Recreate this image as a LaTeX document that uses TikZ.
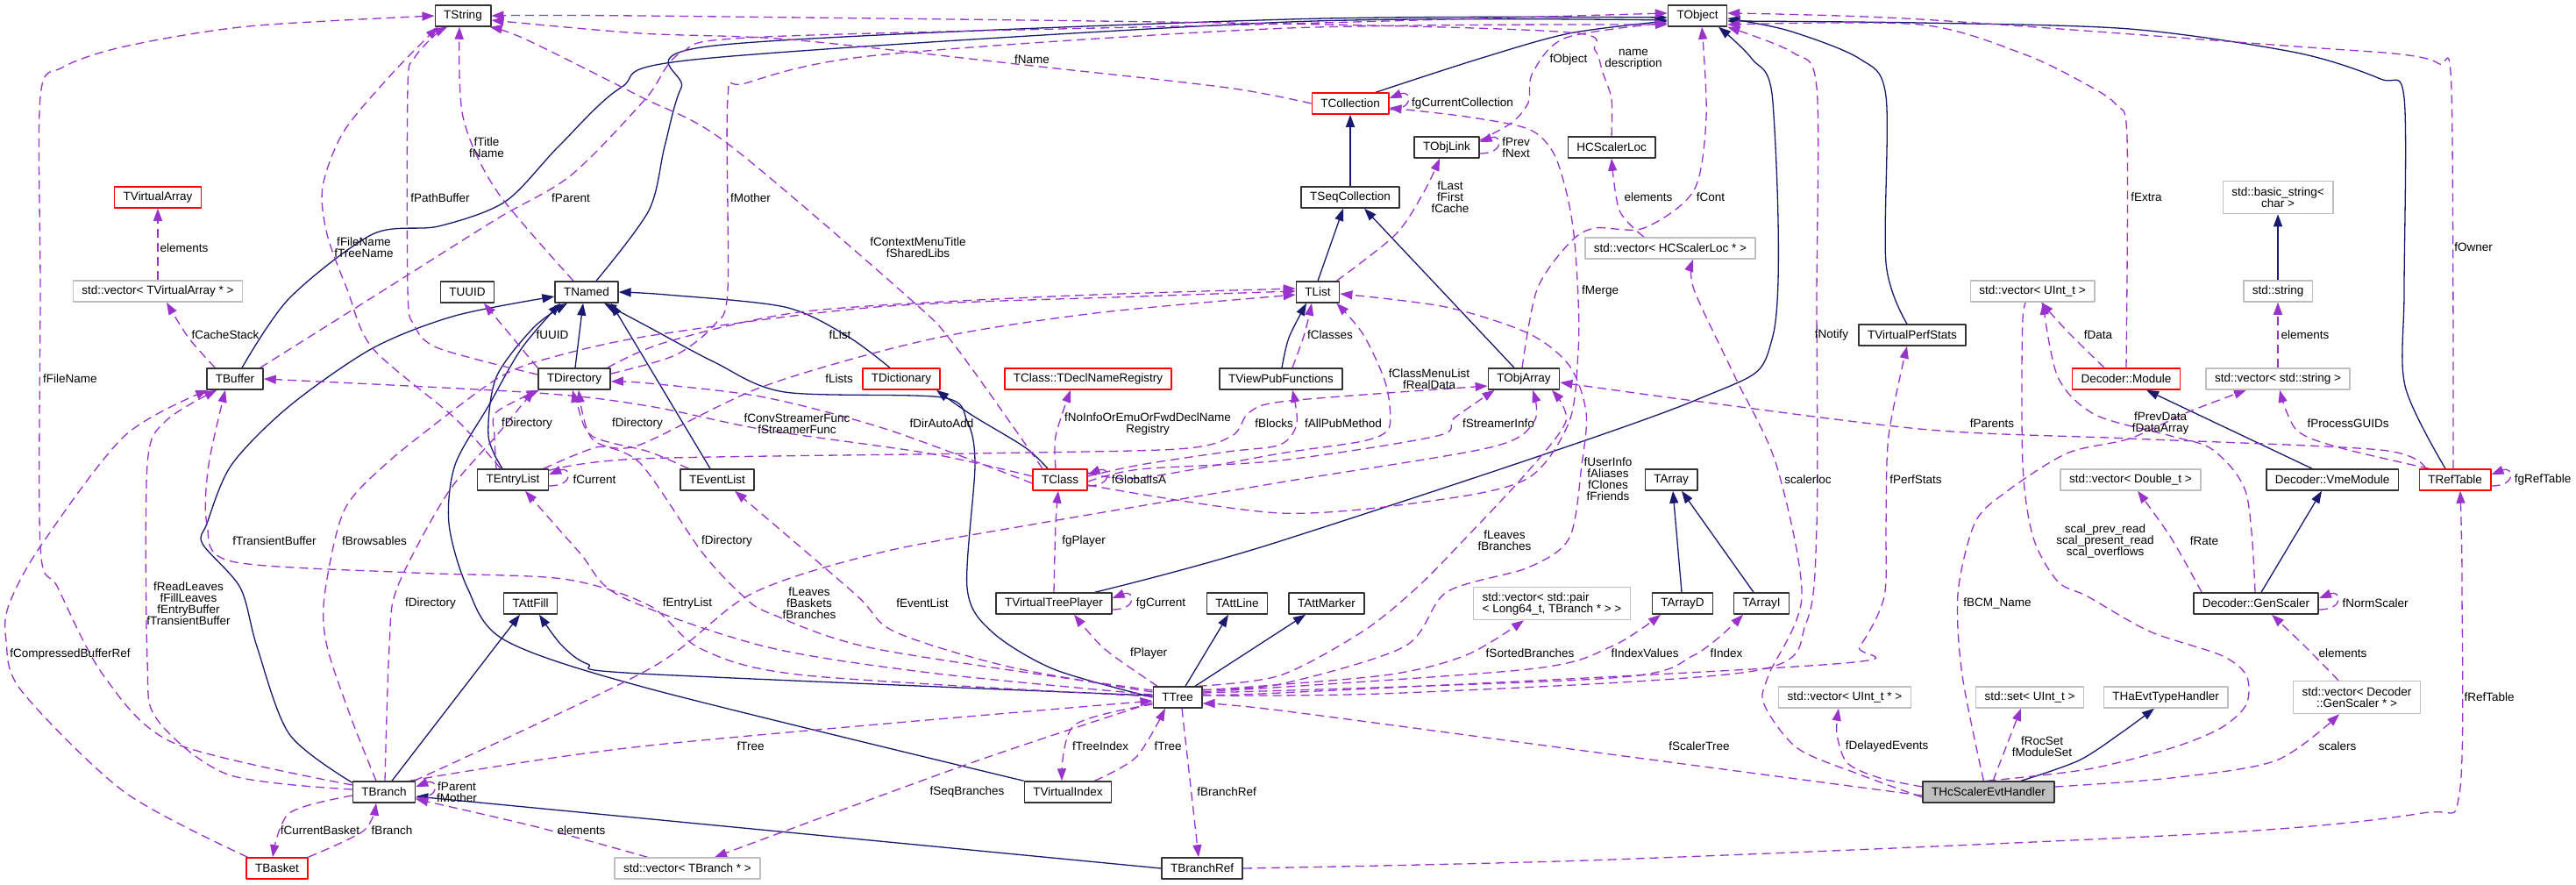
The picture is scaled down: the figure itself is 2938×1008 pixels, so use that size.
\documentclass[tikz,border=0pt]{standalone}
\usepackage{fontspec}
\setmainfont{Liberation Sans}
\usetikzlibrary{arrows.meta,backgrounds}
\definecolor{erbblau}{HTML}{191970}
\definecolor{nutzlila}{HTML}{9A32CD}
\definecolor{randgrau}{HTML}{BFBFBF}

\begin{document}
\begin{tikzpicture}[x=0.5pt,y=-0.5pt,font=\fontsize{6.75}{6.5}\selectfont,line join=round,
  klasse/.style={draw=black!80,line width=0.75pt,fill=white,inner xsep=5pt,inner ysep=0pt,minimum height=12pt},
  rotklasse/.style={klasse,draw=red},
  grauklasse/.style={klasse,draw=randgrau},
  hauptklasse/.style={klasse,fill=randgrau},
  zweizeilig/.style={align=center,minimum height=18.5pt},
  erbt/.style={draw=erbblau,line width=0.65pt,-{Triangle[length=7pt,width=5pt]}},
  nutzt/.style={draw=nutzlila,line width=0.65pt,dash pattern=on 5pt off 3pt,-{Triangle[length=7pt,width=5pt]}},
  lbl/.style={align=center,inner sep=0pt}]
\useasboundingbox (0,0) rectangle (2938,1008);
% Knoten (Koordinaten in Pixeln des Originals)
\node[klasse] (tstring) at (528,18) {TString};
\node[klasse] (tobject) at (1936,18) {TObject};
\node[rotklasse] (tcoll) at (1540,118) {TCollection};
\node[klasse] (tobjlink) at (1650,168) {TObjLink};
\node[klasse] (hcsl) at (1838,168) {HCScalerLoc};
\node[rotklasse] (tvarr) at (180,225) {TVirtualArray};
\node[klasse] (tseq) at (1540,225) {TSeqCollection};
\node[grauklasse,zweizeilig] (bstr) at (2598,225) {std::basic\_string\textless\\char \textgreater};
\node[grauklasse] (vhcsl) at (1905,283) {std::vector\textless{} HCScalerLoc * \textgreater};
\node[grauklasse] (vvarr) at (180,332) {std::vector\textless{} TVirtualArray * \textgreater};
\node[klasse] (tuuid) at (533,333) {TUUID};
\node[klasse] (tnamed) at (669,333) {TNamed};
\node[klasse] (tlist) at (1503,333) {TList};
\node[grauklasse] (vuint) at (2318,332) {std::vector\textless{} UInt\_t \textgreater};
\node[grauklasse] (sstr) at (2598,332) {std::string};
\node[klasse] (tvps) at (2181,382) {TVirtualPerfStats};
\node[klasse] (tbuffer) at (268,432) {TBuffer};
\node[klasse] (tdir) at (655,432) {TDirectory};
\node[rotklasse] (tdict) at (1028,432) {TDictionary};
\node[rotklasse] (tdnr) at (1241,432) {TClass::TDeclNameRegistry};
\node[klasse] (tvpf) at (1461,432) {TViewPubFunctions};
\node[klasse] (tobjarr) at (1738,432) {TObjArray};
\node[rotklasse] (dmod) at (2425,432) {Decoder::Module};
\node[grauklasse] (vstr) at (2598,432) {std::vector\textless{} std::string \textgreater};
\node[klasse] (tentry) at (585,547) {TEntryList};
\node[klasse] (tevent) at (818,547) {TEventList};
\node[rotklasse] (tclass) at (1209,547) {TClass};
\node[klasse] (tarray) at (1906,547) {TArray};
\node[grauklasse] (vdbl) at (2430,547) {std::vector\textless{} Double\_t \textgreater};
\node[klasse] (vme) at (2660,547) {Decoder::VmeModule};
\node[rotklasse] (treft) at (2800,547) {TRefTable};
\node[klasse] (tattfill) at (605,688) {TAttFill};
\node[klasse] (tvtp) at (1202,688) {TVirtualTreePlayer};
\node[klasse] (tattline) at (1411,688) {TAttLine};
\node[klasse] (tattmark) at (1513,688) {TAttMarker};
\node[grauklasse,zweizeilig,align=left] (vpair) at (1770,688) {std::vector\textless{} std::pair\\\textless{} Long64\_t, TBranch * \textgreater{} \textgreater};
\node[klasse] (tarrd) at (1919,688) {TArrayD};
\node[klasse] (tarri) at (2009,688) {TArrayI};
\node[klasse] (gensc) at (2573,688) {Decoder::GenScaler};
\node[klasse] (ttree) at (1343,795) {TTree};
\node[grauklasse] (vuintp) at (2104,795) {std::vector\textless{} UInt\_t * \textgreater};
\node[grauklasse] (sset) at (2315,795) {std::set\textless{} UInt\_t \textgreater};
\node[grauklasse] (thaevt) at (2470,795) {THaEvtTypeHandler};
\node[grauklasse,zweizeilig] (vgen) at (2688,795) {std::vector\textless{} Decoder\\::GenScaler * \textgreater};
\node[klasse] (tbranch) at (438,903) {TBranch};
\node[klasse] (tvidx) at (1218,903) {TVirtualIndex};
\node[hauptklasse] (hcevt) at (2268,903) {THcScalerEvtHandler};
\node[rotklasse] (tbasket) at (316,990) {TBasket};
\node[grauklasse] (vbranch) at (784,990) {std::vector\textless{} TBranch * \textgreater};
\node[klasse] (tbref) at (1371,990) {TBranchRef};

\begin{scope}[on background layer]
% Vererbung
\draw[erbt] plot[smooth] coordinates {([xshift=14.5pt]tcoll.north) (1687,67) (1790,38) ([yshift=-3pt]tobject.west)};
\draw[erbt] (tseq) -- (tcoll);
\draw[erbt] (tlist.north) -- ([xshift=-4pt]tseq.south);
\draw[erbt] ([xshift=-5.5pt]tobjarr.north) -- ([xshift=8pt]tseq.south);
\draw[erbt] plot[smooth] coordinates {([xshift=5.5pt]tnamed.north) (740,240) (758,167) (777,100) (815,52) (1470,22) ([yshift=-1pt]tobject.west)};
\draw[erbt] plot[smooth] coordinates {([xshift=4pt]tbuffer.north) (330,340) (425,267) (500,258) (576,230) (637,167) (708,100) (801,67) (1470,25) ([yshift=-2.5pt]tobject.west)};
\draw[erbt] ([xshift=0.5pt]tdir.north) -- ([xshift=-2pt]tnamed.south);
\draw[erbt] plot[smooth] coordinates {([xshift=-6pt]tentry.north) (557,497) (566,430) (609,373) ([xshift=-11pt]tnamed.south)};
\draw[erbt] ([xshift=-4pt]tevent.north) -- ([xshift=14pt]tnamed.south);
\draw[erbt] plot[smooth] coordinates {(tvidx.north west) (740,785) (576,730) (533,670) (512,597) (519,530) (557,463) (595,397) ([xshift=-15pt]tnamed.south)};
\draw[erbt] plot[smooth] coordinates {([xshift=-6.5pt]tdict.north) (966,383) (895,350) (760,336) (tnamed.east)};
\draw[erbt] plot[smooth] coordinates {([xshift=-7pt]tclass.north) (1169,510) (1108,473) ([xshift=20pt]tdict.south)};
\draw[erbt] plot[smooth] coordinates {([xshift=0.5pt]tvpf.north) (1470,385) ([xshift=-6.5pt]tlist.south)};
\draw[erbt] plot[smooth] coordinates {(ttree.west) (1202,763) (1131,720) (1103,670) (1112,530) (1103,480) (1074,453) (895,447) (815,413) (740,373) ([xshift=10pt]tnamed.south)};
\draw[erbt] ([xshift=4.5pt]ttree.north) -- ([xshift=-5pt]tattline.south);
\draw[erbt] ([xshift=10pt]ttree.north) -- ([xshift=-12pt]tattmark.south);
\draw[erbt] plot[smooth] coordinates {([yshift=1pt]ttree.west) (730,768) (670,757) (640,735) ([xshift=5pt]tattfill.south)};
\draw[erbt] ([xshift=4.5pt]tbranch.north) -- ([xshift=-6pt]tattfill.south);
\draw[erbt] plot[smooth] coordinates {([yshift=-1pt]tbranch.north west) (330,837) (293,737) (274,670) (231,620) (236,597) (264,530) (330,463) (425,397) (519,360) ([yshift=-2.5pt]tnamed.west)};
\draw[erbt] (tbref.west) -- ([yshift=-2.5pt]tbranch.east);
\draw[erbt] plot[smooth] coordinates {([xshift=-10pt]tvtp.north east) (1460,617) (1932,457) (2022,383) (2022,117) (1998,67) ([xshift=12pt]tobject.south)};
\draw[erbt] plot[smooth] coordinates {([xshift=-3pt]tvps.north) (2151,300) (2151,110) (2121,67) (2040,35) ([yshift=-1.5pt]tobject.east)};
\draw[erbt] plot[smooth] coordinates {([xshift=-5.5pt]treft.north) (2743,440) (2742,330) (2742,112) (2715,90) (2619,60) (2429,33) (2190,26) ([yshift=-3pt]tobject.east)};
\draw[erbt] ([xshift=-0.5pt]tarrd.north) -- ([xshift=1pt]tarray.south);
\draw[erbt] ([xshift=-4.5pt]tarri.north) -- ([xshift=6pt]tarray.south);
\draw[erbt] (sstr) -- (bstr);
\draw[erbt] ([xshift=-11.5pt]vme.north) -- ([xshift=11.5pt]dmod.south);
\draw[erbt] ([xshift=3pt]gensc.north) -- ([xshift=-6pt]vme.south);
\draw[erbt] plot[smooth] coordinates {([xshift=18.5pt]hcevt.north) (2371,867) (2420,835) ([xshift=-6.5pt]thaevt.south)};

% Benutzung (Member)
\draw[nutzt] plot[smooth] coordinates {([xshift=-7.5pt]tnamed.north) (566,217) (528,133) ([xshift=-2pt]tstring.south)};
\draw[nutzt] plot[smooth] coordinates {([yshift=2.5pt]tdir.west) (500,397) (472,370) (465,330) (465,100) (472,67) (496,40) ([xshift=-9pt]tstring.south)};
\draw[nutzt] plot[smooth] coordinates {([xshift=-7pt]tentry.north) (519,477) (425,397) (396,330) (373,267) (368,213) (392,150) (448,83) ([xshift=2pt]tstring.south west)};
\draw[nutzt] plot[smooth] coordinates {([yshift=4pt]tbranch.west) (198,847) (118,770) (66,670) (46,623) (46,330) (46,110) (71,77) (142,53) (283,30) (tstring.west)};
\draw[nutzt] plot[smooth] coordinates {([xshift=1pt]tbasket.north west) (142,903) (24,787) (7,730) (10,690) (46,623) (142,497) ([xshift=1pt]tbuffer.south west)};
\draw[nutzt] plot[smooth] coordinates {([xshift=5pt]tbuffer.north west) (215,385) ([xshift=5pt]vvarr.south)};
\draw[nutzt] (vvarr) -- (tvarr);
\draw[nutzt] plot[smooth] coordinates {([xshift=-2pt]tbuffer.north east) (439,330) (566,250) (651,200) (736,113) (777,60) (872,42) (1470,27) ([yshift=1.5pt]tobject.west)};
\draw[nutzt] plot[smooth] coordinates {([yshift=3pt]tdir.east) (770,405) (815,370) (830,330) (830,112) (850,95) (1000,63) (1470,32) ([yshift=-5pt]tobject.west)};
\draw[nutzt] plot[smooth] coordinates {(tcoll.west) (1400,100) (1177,75) (900,45) (730,38) ([yshift=-2.5pt]tstring.east)};
\draw[nutzt] plot[smooth] coordinates {(hcsl.north) (1838,113) (1828,83) (1819,57) (1790,37) (1460,27) (730,18) (tstring.east)};
\draw[nutzt] plot[smooth] coordinates {([yshift=4pt]tobjlink.east) (1724,140) (1743,117) (1748,83) (1786,43) ([yshift=-4pt]tobject.west)};
\draw[nutzt] plot[smooth] coordinates {([xshift=-2pt]tlist.north east) (1592,267) (1625,217) ([xshift=-4pt]tobjlink.south)};
\draw[nutzt] plot[smooth] coordinates {([xshift=-15pt]vhcsl.north) (1847,240) (hcsl.south)};
\draw[nutzt] plot[smooth] coordinates {([xshift=-1pt]tobjarr.north) (1753,330) (1790,277) (1819,260) (1875,260) (1932,217) (1946,133) ([xshift=2.5pt]tobject.south)};
\draw[nutzt] plot[smooth] coordinates {([yshift=-3pt]tclass.east) (1460,585) (1640,570) (1743,545) (1790,480) (1800,400) (1800,340) (1795,267) (1786,217) (1771,173) (1743,147) (1672,133) ([yshift=-2.5pt]tcoll.east)};
\draw[nutzt] plot[smooth] coordinates {([xshift=-10pt]tclass.north) (1089,394) (1037,340) (829,163) (730,110) (600,45) ([xshift=-1pt]tstring.south east)};
\draw[nutzt] (tdir.north west) -- ([xshift=9.5pt]tuuid.south);
\draw[nutzt] plot[smooth] coordinates {([xshift=-9.5pt]tentry.north) (564,497) (566,470) ([xshift=1pt]tdir.south west)};
\draw[nutzt] plot[smooth] coordinates {([xshift=5pt]tevent.north west) (740,515) (675,497) (658,460) ([xshift=-1pt]tdir.south)};
\draw[nutzt] plot[smooth] coordinates {([xshift=6.5pt]tvpf.north) (1488,380) ([xshift=-3.5pt]tlist.south)};
\draw[nutzt] plot[smooth] coordinates {([yshift=2pt]tclass.east) (1300,530) (1400,515) (1460,507) (1479,483) ([xshift=6.5pt]tvpf.south)};
\draw[nutzt] plot[smooth] coordinates {([yshift=-1pt]tclass.east) (1300,535) (1460,525) (1639,497) (1658,477) ([xshift=4pt]tobjarr.south west)};
\draw[nutzt] plot[smooth] coordinates {([yshift=4pt]tclass.east) (1300,545) (1460,517) (1554,503) (1583,490) (1585,463) (1578,430) (1554,380) ([xshift=-2pt]tlist.south east)};
\draw[nutzt] plot[smooth] coordinates {([xshift=-2.5pt]tclass.north) (1204,497) ([xshift=-10pt]tdnr.south)};
\draw[nutzt] plot[smooth] coordinates {([xshift=-2pt]tdir.north east) (760,390) (919,355) (1200,338) ([yshift=2pt]tlist.west)};
\draw[nutzt] plot[smooth] coordinates {([xshift=-3pt]tentry.north east) (680,510) (730,507) (872,440) (1060,387) (1249,357) ([yshift=-1.5pt]tlist.west)};
\draw[nutzt] plot[smooth] coordinates {([xshift=-4.5pt]tbranch.north) (401,820) (373,737) (370,680) (392,583) (439,530) (510,473) (570,430) (620,410) (740,383) (1000,350) (1300,338) ([yshift=0.5pt]tlist.west)};
\draw[nutzt] plot[smooth] coordinates {([yshift=2pt]tclass.west) (1060,517) (872,490) (740,463) (613,448) (tbuffer.east)};
\draw[nutzt] plot[smooth] coordinates {([yshift=-2pt]tclass.west) (1013,490) (872,453) (740,437) ([yshift=-1.5pt]tdir.east)};
\draw[nutzt] plot[smooth] coordinates {([yshift=-1pt]tentry.north east) (730,523) (1107,517) (1343,512) (1405,497) (1425,470) (1470,457) ([yshift=-4pt]tobjarr.west)};
\draw[nutzt] plot[smooth] coordinates {([xshift=-1pt]tbranch.north east) (740,763) (857,677) (1004,630) (1183,597) (1460,550) (1700,510) (1750,480) ([xshift=5pt]tobjarr.south)};
\draw[nutzt] plot[smooth] coordinates {([xshift=-2.5pt]ttree.north east) (1460,770) (1554,720) (1616,670) (1672,613) (1743,537) (1786,480) ([xshift=16pt]tobjarr.south)};
\draw[nutzt] plot[smooth] coordinates {([yshift=-2pt]ttree.north east) (1460,780) (1602,737) (1650,675) (1743,647) (1790,613) (1804,530) (1809,470) (1790,417) (1743,380) (1649,350) ([yshift=-1pt]tlist.east)};
\draw[nutzt] plot[smooth] coordinates {([yshift=1pt]ttree.east) (1600,790) (2000,765) (2060,710) (2072,600) (2072,340) (2072,100) (2045,60) (tobject.south east)};
\draw[nutzt] plot[smooth] coordinates {([yshift=-3pt]hcevt.west) (2121,883) (2050,853) (2012,803) (2017,770) (2055,680) (2026,530) (1979,430) (1932,330) ([xshift=13pt]vhcsl.south)};
\draw[nutzt] plot[smooth] coordinates {([yshift=2pt]ttree.east) (1460,790) (2092,757) (2121,737) (2149,680) (2151,597) (2154,497) ([xshift=-3pt]tvps.south)};
\draw[nutzt] plot[smooth] coordinates {([xshift=4pt]treft.north west) (2715,513) (2429,500) (2200,490) (1932,457) ([yshift=-2pt]tobjarr.east)};
\draw[nutzt] plot[smooth] coordinates {([xshift=6pt]treft.north west) (2667,510) (2619,490) ([xshift=1pt]vstr.south)};
\draw[nutzt] (vstr) -- (sstr);
\draw[nutzt] plot[smooth] coordinates {([xshift=-12.5pt]dmod.north) (2360,380) ([xshift=5pt]vuint.south)};
\draw[nutzt] plot[smooth] coordinates {(dmod.north) (2426,157) (2414,120) (2381,97) (2309,62) (2190,28) ([yshift=-5pt]tobject.east)};
\draw[nutzt] plot[smooth] coordinates {([xshift=-1pt]treft.north) (2796,103) (2782,73) (2739,62) (2619,53) (2190,22) ([yshift=1.5pt]tobject.east)};
\draw[nutzt] plot[smooth] coordinates {([xshift=-0.5pt]gensc.north) (2562,563) (2524,513) (2476,497) (2390,473) (2347,430) ([xshift=6pt]vuint.south)};
\draw[nutzt] plot[smooth] coordinates {([xshift=37pt]hcevt.north west) (2381,877) (2476,853) (2533,830) (2562,803) (2562,770) (2533,747) (2452,720) (2381,680) (2347,663) (2319,613) (2307,530) (2307,363) ([xshift=-1pt]vuint.south)};
\draw[nutzt] plot[smooth] coordinates {([xshift=35pt]hcevt.north west) (2238,770) (2233,677) (2252,597) (2285,563) (2357,517) (2429,500) (2495,470) ([xshift=-18pt]vstr.south)};
\draw[nutzt] plot[smooth] coordinates {([xshift=5pt]gensc.north west) (2476,613) ([xshift=4pt]vdbl.south)};
\draw[nutzt] plot[smooth] coordinates {([xshift=-10.5pt]vgen.north) (2629,737) ([xshift=9pt]gensc.south)};
\draw[nutzt] plot[smooth] coordinates {([yshift=3pt]hcevt.east) (2476,887) (2596,867) ([xshift=-10pt]vgen.south)};
\draw[nutzt] plot[smooth] coordinates {(tbref.east) (1838,980) (2524,950) (2763,927) (2805,905) (2808,670) ([xshift=3pt]treft.south)};
\draw[nutzt] ([xshift=2.5pt]hcevt.north) -- ([xshift=-5pt]sset.south);
\draw[nutzt] plot[smooth] coordinates {([yshift=3pt]hcevt.west) (2144,887) (2107,870) (2095,837) ([xshift=-3.5pt]vuintp.south)};
\draw[nutzt] plot[smooth] coordinates {([yshift=-2pt]hcevt.west) (1837,860) (1460,810) ([yshift=-3.5pt]ttree.east)};
\draw[nutzt] plot[smooth] coordinates {([yshift=4pt]ttree.east) (1578,770) (1672,747) ([xshift=-16pt]vpair.south)};
\draw[nutzt] plot[smooth] coordinates {([yshift=3pt]ttree.east) (1743,763) (1838,737) ([xshift=-12.5pt]tarrd.south)};
\draw[nutzt] plot[smooth] coordinates {([yshift=2.5pt]ttree.east) (1838,773) (1932,747) ([xshift=-10.5pt]tarri.south)};
\draw[nutzt] plot[smooth] coordinates {([xshift=-11.5pt]ttree.north) (1260,740) ([xshift=11.5pt]tvtp.south)};
\draw[nutzt] plot[smooth] coordinates {(tvtp.north) (1204,597) ([xshift=-1pt]tclass.south)};
\draw[nutzt] plot[smooth] coordinates {([yshift=-4pt]ttree.west) (1225,827) ([xshift=-3.5pt]tvidx.north)};
\draw[nutzt] plot[smooth] coordinates {([xshift=-10pt]tvidx.north east) (1296,863) ([xshift=-7pt]ttree.south)};
\draw[nutzt] ([xshift=2.5pt]ttree.south) -- ([xshift=-2pt]tbref.north);
\draw[nutzt] plot[smooth] coordinates {([yshift=-3pt]ttree.west) (1107,870) ([xshift=15.5pt]vbranch.north)};
\draw[nutzt] plot[smooth] coordinates {([xshift=-3.5pt]tbranch.north east) (740,850) ([yshift=-2pt]ttree.west)};
\draw[nutzt] plot[smooth] coordinates {([yshift=3pt]ttree.west) (1150,760) (1020,720) (975,677) ([xshift=10pt]tevent.south)};
\draw[nutzt] plot[smooth] coordinates {([yshift=1.5pt]ttree.west) (1060,767) (872,737) (708,680) (661,630) ([xshift=7pt]tentry.south)};
\draw[nutzt] plot[smooth] coordinates {([yshift=4pt]ttree.west) (1000,740) (880,700) (848,680) (801,630) (730,528) (675,500) ([xshift=2.5pt]tdir.south)};
\draw[nutzt] plot[smooth] coordinates {([yshift=0.5pt]ttree.west) (919,770) (800,740) (740,690) (642,660) (472,653) (264,640) (236,597) (238,530) ([xshift=-5.5pt]tbuffer.south)};
\draw[nutzt] plot[smooth] coordinates {([xshift=0.5pt]tbranch.north) (444,737) (453,670) (510,563) (566,497) ([xshift=-2pt]tdir.south west)};
\draw[nutzt] plot[smooth] coordinates {([yshift=1.5pt]tbranch.west) (260,883) (179,820) (168,753) (168,530) (189,480) ([xshift=6pt]tbuffer.south west)};
\draw[nutzt] plot[smooth] coordinates {([yshift=-2pt]tbranch.west) (330,927) ([xshift=-2.5pt]tbasket.north)};
\draw[nutzt] plot[smooth] coordinates {(tbasket.north east) (415,947) ([xshift=-4.5pt]tbranch.south)};
\draw[nutzt] plot[smooth] coordinates {([xshift=19pt]vbranch.north west) (613,943) ([yshift=-4pt]tbranch.east)};
% Schleifen an sich selbst
\foreach \n in {tcoll,tobjlink,tentry,tclass,tvtp,treft,gensc,tbranch}{
  \draw[nutzt] ([yshift=-3.5pt]\n.east) .. controls +(30,0) and +(25,-10) .. ([yshift=3pt]\n.east);
}
\end{scope}

% Beschriftungen
\node[lbl] (lTitle) at (555,168) {fTitle\\fName};
\node[lbl] (lPath) at (502,226) {fPathBuffer};
\node[lbl] (lFileTree) at (415,282) {fFileName\\fTreeName};
\node[lbl] (lFile) at (80,432) {fFileName};
\node[lbl] (lComp) at (80,746) {fCompressedBufferRef};
\node[lbl] (lCache) at (257,382) {fCacheStack};
\node[lbl] (lElemVA) at (210,283) {elements};
\node[lbl] (lParent) at (651,226) {fParent};
\node[lbl] (lMother) at (856,226) {fMother};
\node[lbl] (lName) at (1177,68) {fName};
\node[lbl] (lNameDesc) at (1863,68) {name\\description};
\node[lbl] (lObject) at (1789,68) {fObject};
\node[lbl] (lPrevNext) at (1729,168) {fPrev\\fNext};
\node[lbl] (lCurColl) at (1668,118) {fgCurrentCollection};
\node[lbl] (lLast) at (1654,225) {fLast\\fFirst\\fCache};
\node[lbl] (lElemHC) at (1880,225) {elements};
\node[lbl] (lCont) at (1951,225) {fCont};
\node[lbl] (lMerge) at (1825,332) {fMerge};
\node[lbl] (lCtx) at (1047,282) {fContextMenuTitle\\fSharedLibs};
\node[lbl] (lUUID) at (630,382) {fUUID};
\node[lbl] (lCurrent) at (678,547) {fCurrent};
\node[lbl] (lDirA) at (601,483) {fDirectory};
\node[lbl] (lDirB) at (727,483) {fDirectory};
\node[lbl] (lClasses) at (1517,382) {fClasses};
\node[lbl] (lAllPub) at (1532,483) {fAllPubMethod};
\node[lbl] (lStreamer) at (1709,483) {fStreamerInfo};
\node[lbl] (lMenu) at (1630,432) {fClassMenuList\\fRealData};
\node[lbl] (lNoInfo) at (1309,483) {fNoInfoOrEmuOrFwdDeclName\\Registry};
\node[lbl] (lGlobal) at (1299,547) {fGlobalIsA};
\node[lbl] (lList) at (958,382) {fList};
\node[lbl] (lLists) at (957,432) {fLists};
\node[lbl] (lConv) at (909,483) {fConvStreamerFunc\\fStreamerFunc};
\node[lbl] (lAuto) at (1074,483) {fDirAutoAdd};
\node[lbl] (lBlocks) at (1453,483) {fBlocks};
\node[lbl] (lLeavesB) at (923,688) {fLeaves\\fBaskets\\fBranches};
\node[lbl] (lLeavesT) at (1716,616) {fLeaves\\fBranches};
\node[lbl] (lUser) at (1834,546) {fUserInfo\\fAliases\\fClones\\fFriends};
\node[lbl] (lNotify) at (2089,382) {fNotify};
\node[lbl] (lScLoc) at (2062,547) {scalerloc};
\node[lbl] (lPerf) at (2185,547) {fPerfStats};
\node[lbl] (lParents) at (2272,483) {fParents};
\node[lbl] (lGUID) at (2678,483) {fProcessGUIDs};
\node[lbl] (lElemStr) at (2629,382) {elements};
\node[lbl] (lData) at (2393,382) {fData};
\node[lbl] (lExtra) at (2448,225) {fExtra};
\node[lbl] (lOwner) at (2821,282) {fOwner};
\node[lbl] (lPrevData) at (2464,483) {fPrevData\\fDataArray};
\node[lbl] (lScal) at (2401,617) {scal\_prev\_read\\scal\_present\_read\\scal\_overflows};
\node[lbl] (lBCM) at (2278,688) {fBCM\_Name};
\node[lbl] (lRate) at (2514,617) {fRate};
\node[lbl] (lRefT) at (2900,547) {fgRefTable};
\node[lbl] (lNorm) at (2709,688) {fNormScaler};
\node[lbl] (lElemGen) at (2672,745) {elements};
\node[lbl] (lScalers) at (2666,851) {scalers};
\node[lbl] (lRefTable) at (2839,795) {fRefTable};
\node[lbl] (lRoc) at (2329,851) {fRocSet\\fModuleSet};
\node[lbl] (lDelayed) at (2152,851) {fDelayedEvents};
\node[lbl] (lScTree) at (1938,851) {fScalerTree};
\node[lbl] (lSorted) at (1745,745) {fSortedBranches};
\node[lbl] (lIdxVal) at (1876,745) {fIndexValues};
\node[lbl] (lIdx) at (1969,745) {fIndex};
\node[lbl] (lPlayer) at (1310,745) {fPlayer};
\node[lbl] (lgCur) at (1324,688) {fgCurrent};
\node[lbl] (lgPlayer) at (1236,617) {fgPlayer};
\node[lbl] (lTreeIdx) at (1255,851) {fTreeIndex};
\node[lbl] (lTreeA) at (1332,851) {fTree};
\node[lbl] (lBrRef) at (1399,903) {fBranchRef};
\node[lbl] (lSeq) at (1103,903) {fSeqBranches};
\node[lbl] (lTreeB) at (856,851) {fTree};
\node[lbl] (lEvList) at (1052,688) {fEventList};
\node[lbl] (lEnList) at (784,688) {fEntryList};
\node[lbl] (lDirC) at (829,617) {fDirectory};
\node[lbl] (lTrans) at (313,617) {fTransientBuffer};
\node[lbl] (lBrows) at (427,617) {fBrowsables};
\node[lbl] (lDirD) at (491,688) {fDirectory};
\node[lbl] (lRead) at (215,688) {fReadLeaves\\fFillLeaves\\fEntryBuffer\\fTransientBuffer};
\node[lbl] (lParMot) at (521,903) {fParent\\fMother};
\node[lbl] (lCurBask) at (365,947) {fCurrentBasket};
\node[lbl] (lBranch) at (447,947) {fBranch};
\node[lbl] (lElemBr) at (663,947) {elements};
\end{tikzpicture}
\end{document}
